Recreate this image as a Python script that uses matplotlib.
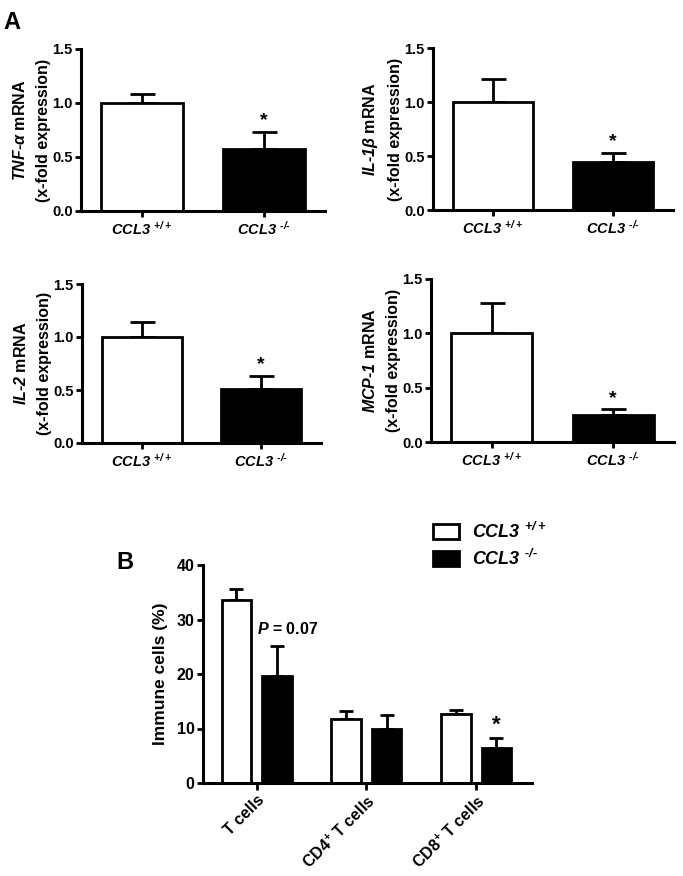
import matplotlib
matplotlib.use("Agg")
import matplotlib.pyplot as plt
from matplotlib.patches import Patch

plt.rcParams['font.family'] = ['Liberation Sans', 'DejaVu Sans']
plt.rcParams['font.weight'] = 'bold'
plt.rcParams['axes.labelweight'] = 'bold'
plt.rcParams['mathtext.fontset'] = 'custom'
plt.rcParams['mathtext.it'] = 'Liberation Sans:italic:bold'
plt.rcParams['mathtext.rm'] = 'Liberation Sans:italic:bold'
plt.rcParams['mathtext.bf'] = 'Liberation Sans:bold'
plt.rcParams['mathtext.default'] = 'it'

# ---- data ----
genotypes = [r"$CCL3\ ^{+/+}$", r"$CCL3\ ^{\text{-/-}}$"]

tnf_mean = [1.0, 0.57]
tnf_sem = [0.08, 0.16]
il1b_mean = [1.0, 0.44]
il1b_sem = [0.21, 0.09]
il2_mean = [1.0, 0.51]
il2_sem = [0.14, 0.12]
mcp1_mean = [1.0, 0.25]
mcp1_sem = [0.28, 0.05]

gene_labels = [r"$TNF\text{-}α$ mRNA", r"$IL\text{-}1β$ mRNA", r"$IL\text{-}2$ mRNA",
               r"$MCP\text{-}1$ mRNA"]
a_yticks = [0.0, 0.5, 1.0, 1.5]

cell_types = ["T cells", r"CD4$^{+}$ T cells", r"CD8$^{+}$ T cells"]
wt_cells = [33.6, 11.8, 12.6]
wt_cells_sem = [2.0, 1.4, 0.8]
ko_cells = [19.6, 9.9, 6.4]
ko_cells_sem = [5.6, 2.5, 1.8]
b_yticks = [0, 10, 20, 30, 40]

W, H = 683, 876
fig = plt.figure(figsize=(W / 100, H / 100), dpi=100)


def rect(left, right, y0, ytop):
    return [left / W, 1 - y0 / H, (right - left) / W, (y0 - ytop) / H]


def style(ax, size):
    for s in ['top', 'right']:
        ax.spines[s].set_visible(False)
    for s in ['left', 'bottom']:
        ax.spines[s].set_linewidth(2.2)
    ax.tick_params(width=2, length=4, labelsize=size, pad=2)


a_axes = [rect(81, 325, 211, 49), rect(433, 673, 210, 48),
          rect(82, 321, 443, 284), rect(431, 674, 442, 279)]
a_means = [tnf_mean, il1b_mean, il2_mean, mcp1_mean]
a_sems = [tnf_sem, il1b_sem, il2_sem, mcp1_sem]

for r, m, e, lab in zip(a_axes, a_means, a_sems, gene_labels):
    ax = fig.add_axes(r)
    x = [0, 1]
    ax.errorbar(x, m, yerr=[[0, 0], e], fmt='none', ecolor='black',
                elinewidth=2, capsize=9, capthick=2, zorder=1)
    ax.bar(x, m, width=0.67, color=['white', 'black'], edgecolor='black',
           linewidth=2, zorder=2)
    ax.annotate('*', (1, m[1] + e[1]), xytext=(0, 2), textcoords='offset points',
                ha='center', va='bottom', fontsize=14, fontweight='bold')
    ax.set_xlim(-0.5, 1.5)
    ax.set_ylim(0, 1.5)
    ax.set_yticks(a_yticks)
    ax.set_yticklabels([f"{v:.1f}" for v in a_yticks])
    ax.set_xticks(x)
    style(ax, 10.5)
    ax.set_xticklabels(genotypes, fontsize=10.5)
    ax.set_ylabel(lab + "\n(x-fold expression)", fontsize=11.5, labelpad=1,
                  linespacing=1.65)

fig.text(3 / W, 1 - 29 / H, "A", fontsize=17, fontweight='bold')
fig.text(116 / W, 1 - 569 / H, "B", fontsize=17, fontweight='bold')

# ---- panel B ----
ax = fig.add_axes(rect(203, 532, 783, 565))
xs = [0, 1, 2]
off = 0.185
bw = 0.27
wx = [v - off for v in xs]
kx = [v + off for v in xs]
ax.errorbar(wx, wt_cells, yerr=[[0] * 3, wt_cells_sem], fmt='none', ecolor='black',
            elinewidth=2, capsize=5, capthick=2, zorder=1)
ax.errorbar(kx, ko_cells, yerr=[[0] * 3, ko_cells_sem], fmt='none', ecolor='black',
            elinewidth=2, capsize=5, capthick=2, zorder=1)
ax.bar(wx, wt_cells, width=bw, color='white', edgecolor='black', linewidth=2,
       zorder=2, label=genotypes[0])
ax.bar(kx, ko_cells, width=bw, color='black', edgecolor='black', linewidth=2,
       zorder=2, label=genotypes[1])
ax.annotate(r"$P$ = 0.07", (kx[0], ko_cells[0] + ko_cells_sem[0]), xytext=(8, 6),
            textcoords='offset points', ha='center', va='bottom', fontsize=11.5,
            fontweight='bold')
ax.annotate('*', (kx[2], ko_cells[2] + ko_cells_sem[2]), xytext=(0, 2),
            textcoords='offset points', ha='center', va='bottom', fontsize=16,
            fontweight='bold')
ax.set_xlim(-0.49, 2.51)
ax.set_ylim(0, 40)
ax.set_yticks(b_yticks)
ax.set_xticks(xs)
style(ax, 11.5)
ax.set_xticklabels(cell_types, rotation=45, ha='right', rotation_mode='anchor',
                   fontsize=11.5)
ax.set_ylabel("Immune cells (%)", fontsize=12.5, labelpad=6)
ax.tick_params(axis='x', length=5)

handles = [Patch(facecolor='white', edgecolor='black', linewidth=2),
           Patch(facecolor='black', edgecolor='black', linewidth=2)]
fig.legend(handles, [r"$CCL3\ ^{+/+}$", r"$CCL3\ ^{\text{-/-}}$"], loc='upper left',
           bbox_to_anchor=(433 / W, 1 - 522 / H), frameon=False, fontsize=13,
           handlelength=1.45, handleheight=0.9, handletextpad=0.7,
           labelspacing=0.35, borderpad=0, borderaxespad=0)

fig.savefig("out.png", dpi=100)
